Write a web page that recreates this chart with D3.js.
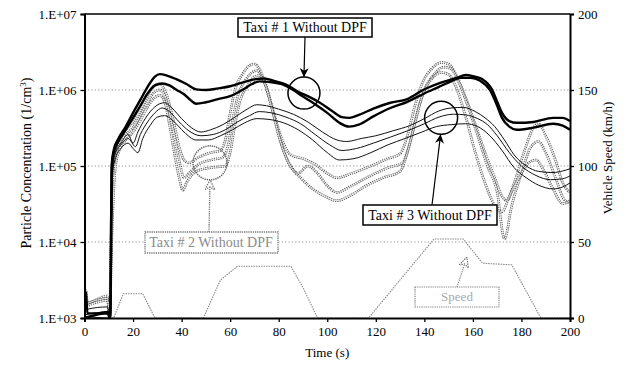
<!DOCTYPE html>
<html><head><meta charset="utf-8">
<script src="https://cdn.jsdelivr.net/npm/d3@7"></script>
<style>
html,body{margin:0;padding:0;background:#fff;}
svg{display:block;font-family:"Liberation Serif","Times New Roman",serif;}
</style></head>
<body><svg id="c" width="624" height="369"></svg>
<script>
// ---- data (time s, value) ----
const xTicks = [0,20,40,60,80,100,120,140,160,180,200];
const concTicks = [1e3,1e4,1e5,1e6,1e7];
const concTickLabels = ["1.E+03","1.E+04","1.E+05","1.E+06","1.E+07"];
const speedTicks = [0,50,100,150,200];

const speed = [[0,0],[12,0],[16,16],[24,16],[29,0],[49,0],[56,25],[63,34],[85,34],[90,20],[96,0],[117,0],[144,52],[156,52],[164,36],[176,35],[188,0],[200,0]];

const taxi1a = [[0,1.0e3],[0.6,2.2e3],[1.2,1.15e3],[5,1.15e3],[9.5,1.2e3],[10.6,1.0e3],[11.2,1.0e5],[12,1.6e5],[14,2.3e5],[17,3.3e5],[20,5e5],[23,7.4e5],[26,1.1e6],[29,1.5e6],[31,1.62e6],[34,1.55e6],[38,1.38e6],[42,1.2e6],[46,1.02e6],[50,1.0e6],[55,1.05e6],[60,1.12e6],[65,1.25e6],[70,1.38e6],[74,1.42e6],[78,1.32e6],[83,1.18e6],[88,9.5e5],[93,8e5],[97,6.8e5],[102,5.3e5],[106,4.4e5],[109,4.3e5],[113,4.7e5],[119,5.7e5],[126,6.8e5],[133,7.6e5],[139.5,1.0e6],[146.5,1.24e6],[153.5,1.45e6],[157,1.58e6],[160,1.52e6],[164,1.38e6],[168,1.0e6],[170,7e5],[172,5e5],[175,3.9e5],[178,3.7e5],[185,3.8e5],[193,4.3e5],[197,4.3e5],[200,3.9e5]];
const taxi1b = [[0,1.0e3],[9.5,1.15e3],[10.6,1.0e3],[11.3,1.0e5],[12,1.5e5],[14,2.1e5],[17,3e5],[20,4.3e5],[23,6.2e5],[26,9e5],[29,1.15e6],[32,1.22e6],[35,1.15e6],[38,1.0e6],[41,8.8e5],[44,7.2e5],[46,6.6e5],[50,6.9e5],[55,7.6e5],[60,8.3e5],[65,1.0e6],[69,1.2e6],[72,1.3e6],[76,1.28e6],[81,1.2e6],[86,1.0e6],[90,8.2e5],[95,6.5e5],[100,5.0e5],[105,3.7e5],[109,3.3e5],[113,3.5e5],[119,4.5e5],[126,5.8e5],[133,7.0e5],[140,9.0e5],[146,1.1e6],[151,1.3e6],[155,1.45e6],[159,1.45e6],[163,1.32e6],[167,1.0e6],[170,6.2e5],[172,4.3e5],[175,3.3e5],[178,3.0e5],[185,3.2e5],[193,3.6e5],[197,3.4e5],[200,3.0e5]];

const taxi3a = [[0,1.1e3],[1,1.3e3],[9.5,1.4e3],[10.5,1.0e3],[11.5,1.0e5],[12.5,1.5e5],[15,2.0e5],[18,2.6e5],[20,2.0e5],[22,2.8e5],[25,4.2e5],[28,5.6e5],[31,6.6e5],[33,6.8e5],[36,5.8e5],[40,4.2e5],[44,3.2e5],[48,2.8e5],[52,3.0e5],[57,3.5e5],[62,4.4e5],[67,5.6e5],[71,6.4e5],[75,6.2e5],[80,5.6e5],[86,4.8e5],[92,3.8e5],[98,2.8e5],[104,2.2e5],[108,2.1e5],[114,2.3e5],[120,2.5e5],[127,2.9e5],[134,3.4e5],[140,4.2e5],[146,5.3e5],[151,5.8e5],[156,5.9e5],[161,5.2e5],[165,4.3e5],[169,3.3e5],[173,2.2e5],[177,1.4e5],[182,1.0e5],[187,8.5e4],[193,8.2e4],[197,8.6e4],[200,9.2e4]];
const taxi3b = [[0,1.1e3],[9.5,1.2e3],[10.5,1.0e3],[11.5,9e4],[12.5,1.4e5],[15,1.9e5],[18,2.3e5],[21,1.8e5],[23,2.6e5],[26,3.8e5],[29,5.0e5],[32,5.8e5],[35,5.2e5],[39,3.8e5],[43,2.9e5],[48,2.5e5],[53,2.6e5],[58,3.0e5],[63,3.8e5],[68,4.6e5],[72,5.2e5],[77,5.0e5],[83,4.4e5],[89,3.6e5],[95,2.6e5],[101,1.9e5],[106,1.6e5],[112,1.7e5],[119,2.0e5],[126,2.4e5],[133,2.9e5],[140,3.6e5],[146,4.4e5],[152,4.8e5],[157,4.7e5],[162,4.2e5],[166,3.5e5],[170,2.5e5],[175,1.5e5],[180,1.0e5],[186,7.5e4],[192,6.6e4],[197,6.8e4],[200,7.4e4]];
const taxi3c = [[0,1.05e3],[10.5,1.0e3],[11.6,8e4],[12.5,1.2e5],[15,1.7e5],[18,2.0e5],[20,1.7e5],[22,1.5e5],[24,2.3e5],[27,3.4e5],[30,4.4e5],[33,4.6e5],[37,3.8e5],[41,2.8e5],[46,2.2e5],[51,2.2e5],[56,2.5e5],[61,3.0e5],[66,3.7e5],[71,4.2e5],[76,4.1e5],[82,3.7e5],[88,3.0e5],[94,2.2e5],[100,1.5e5],[105,1.2e5],[111,1.25e5],[118,1.5e5],[125,1.9e5],[132,2.3e5],[139,2.8e5],[145,3.3e5],[151,3.5e5],[157,3.6e5],[162,3.3e5],[167,2.5e5],[172,1.6e5],[177,9.5e4],[182,7.0e4],[187,5.6e4],[193,5.0e4],[197,5.3e4],[200,6.0e4]];

const taxi2a = [[0,1.6e3],[0.6,2.3e3],[1.2,1.6e3],[9.5,1.95e3],[10.3,1.0e3],[11,2e4],[12,1.0e5],[14,2.2e5],[17,3.0e5],[20,3.8e5],[23,5.5e5],[26,8.5e5],[29,1.15e6],[31,1.2e6],[33,1.0e6],[35,6.5e5],[37,3.5e5],[39,1.8e5],[41,1.2e5],[43,1.1e5],[47,1.3e5],[52,1.5e5],[56,1.6e5],[58,2.2e5],[60,5e5],[62,1.0e6],[65,1.6e6],[68,2.1e6],[70,2.2e6],[72,1.9e6],[75,1.1e6],[78,5e5],[81,2.4e5],[85,1.4e5],[90,1.25e5],[95,1.05e5],[100,8e4],[104,7e4],[110,8e4],[118,1.0e5],[125,1.25e5],[130,1.45e5],[133,2.5e5],[136,6e5],[139,1.2e6],[143,1.9e6],[147,2.3e6],[150,2.2e6],[153,1.6e6],[157,8e5],[161,3.5e5],[165,1.5e5],[169,7e4],[172,4e4],[174,3.5e4],[177,6e4],[181,1.5e5],[185,3.2e5],[187,3.6e5],[190,2.5e5],[194,1.2e5],[197,6e4],[200,4.5e4]];
const taxi2b = [[0,1.5e3],[9.5,1.8e3],[10.3,1.0e3],[11.2,2e4],[12.2,9e4],[14,1.9e5],[17,2.6e5],[20,3.2e5],[23,4.6e5],[26,7e5],[29,9.5e5],[31,1.0e6],[33,8.5e5],[35,5e5],[37,2.5e5],[39,1.2e5],[41,7e4],[43,8e4],[47,1.05e5],[52,1.2e5],[57,1.3e5],[59,1.8e5],[61,4e5],[63,8e5],[66,1.3e6],[69,1.7e6],[71,1.8e6],[73,1.5e6],[76,8e5],[79,3.5e5],[82,1.6e5],[86,9e4],[88,8e4],[92,1.0e5],[96,8e4],[100,5.5e4],[104,4.5e4],[110,5.5e4],[118,7.5e4],[125,9.5e4],[131,1.1e5],[134,2e5],[137,5e5],[140,1.0e6],[144,1.6e6],[148,2.0e6],[151,1.9e6],[154,1.3e6],[158,6e5],[162,2.5e5],[166,1.0e5],[170,4.5e4],[173,1.1e4],[176,3e4],[180,8e4],[184,1.8e5],[187,2.1e5],[190,1.5e5],[194,7e4],[198,3.5e4],[200,3.3e4]];
const taxi2c = [[0,1.4e3],[9.5,1.7e3],[10.3,1.0e3],[11.4,1.5e4],[12.5,8e4],[14,1.5e5],[17,2.2e5],[20,2.8e5],[23,4e5],[26,6e5],[29,8e5],[31,8.5e5],[33,7e5],[35,3.5e5],[37,1.5e5],[39,7e4],[40.5,4.8e4],[42,6e4],[46,8.5e4],[52,9.5e4],[58,1.0e5],[60,1.5e5],[62,3.5e5],[64,7e5],[67,1.1e6],[70,1.5e6],[72,1.55e6],[74,1.3e6],[77,6e5],[80,2.5e5],[84,1.1e5],[89,7e4],[94,5e4],[99,4e4],[104,3.5e4],[109,4e4],[116,5.5e4],[123,7e4],[130,8.5e4],[133,1.5e5],[136,3.5e5],[139,8e5],[143,1.4e6],[147,1.7e6],[150,1.6e6],[153,1.1e6],[157,4.5e5],[161,1.5e5],[165,6e4],[169,3e4],[172,2.5e4],[175,4e4],[179,7e4],[183,1.1e5],[186,1.2e5],[189,9e4],[193,5e4],[197,3.2e4],[200,3.5e4]];

// annotations: [time, concentration] / [time, speed]
const circTaxi1 = [90.4, 9.1e5];
const circTaxi2 = [51.7, 1.1e5];
const circTaxi3 = [146.9, 4.3e5];
const speedArrowTip = [157.5, 40];

// ---- chart ----
const svg = d3.select("#c");
const L=84.5, R=570, T=14, B=318;
const x = d3.scaleLinear().domain([0,200]).range([L,R]);
const y = d3.scaleLog().domain([1e3,1e7]).range([B,T]);
const ys = d3.scaleLinear().domain([0,200]).range([B,T]);

const defs = svg.append("defs");
defs.append("clipPath").attr("id","clip")
  .append("rect").attr("x",L).attr("y",T).attr("width",R-L).attr("height",B-T);
defs.append("marker").attr("id","ah").attr("viewBox","0 0 10 10").attr("refX",10).attr("refY",5)
  .attr("markerWidth",9).attr("markerHeight",10).attr("markerUnits","userSpaceOnUse").attr("orient","auto")
  .append("path").attr("d","M0,0 L10,5 L0,10 L3,5 Z").attr("fill","#000");
defs.append("marker").attr("id","ahg").attr("viewBox","0 0 10 10").attr("refX",10).attr("refY",5)
  .attr("markerWidth",10).attr("markerHeight",10).attr("markerUnits","userSpaceOnUse").attr("orient","auto")
  .append("path").attr("d","M0,0 L10,5 L0,10 L3,5 Z").attr("fill","#fff").attr("stroke","#777").attr("stroke-width",1.2).attr("stroke-dasharray","1.5,1");

// gridlines
svg.append("g").selectAll("line").data([1e4,1e5,1e6]).join("line")
  .attr("x1",L).attr("x2",R).attr("y1",d=>y(d)).attr("y2",d=>y(d))
  .attr("stroke","#777").attr("stroke-width",0.8).attr("stroke-dasharray","1.2,2.2");

const plot = svg.append("g").attr("clip-path","url(#clip)");
const lineC = d3.line().x(d=>x(d[0])).y(d=>y(d[1])).curve(d3.curveMonotoneX);
const lineS = d3.line().x(d=>x(d[0])).y(d=>ys(d[1]));

// speed
plot.append("path").attr("d",lineS(speed)).attr("fill","none").attr("stroke","#888")
  .attr("stroke-width",1.1).attr("stroke-dasharray","1.5,1");

// taxi 2 (hollow dotted gray)
[taxi2a,taxi2b,taxi2c].forEach(s=>{
  plot.append("path").attr("d",lineC(s)).attr("fill","none").attr("stroke","#555")
    .attr("stroke-width",2.6).attr("stroke-dasharray","1.3,0.9");
  plot.append("path").attr("d",lineC(s)).attr("fill","none").attr("stroke","#fff")
    .attr("stroke-width",0.8);
});
// taxi 3 thin black
[taxi3a,taxi3b,taxi3c].forEach(s=>{
  plot.append("path").attr("d",lineC(s)).attr("fill","none").attr("stroke","#111").attr("stroke-width",1);
});
// taxi 1 thick black
[taxi1a,taxi1b].forEach(s=>{
  plot.append("path").attr("d",lineC(s)).attr("fill","none").attr("stroke","#000").attr("stroke-width",2.4);
});

// frame top
svg.append("line").attr("x1",L).attr("x2",R).attr("y1",T).attr("y2",T).attr("stroke","#000").attr("stroke-width",1.5);

// axes
const fs = "13px";
const gL = svg.append("g").attr("transform",`translate(${L},0)`)
  .call(d3.axisLeft(y).tickValues(concTicks).tickFormat((d,i)=>concTickLabels[i]).tickSize(4).tickPadding(4));
const gR = svg.append("g").attr("transform",`translate(${R},0)`)
  .call(d3.axisRight(ys).tickValues(speedTicks).tickSize(4).tickPadding(4));
const gB = svg.append("g").attr("transform",`translate(0,${B})`)
  .call(d3.axisBottom(x).tickValues(xTicks).tickSize(4).tickPadding(5));
[gL,gR,gB].forEach(g=>{
  g.selectAll("text").attr("font-size",fs).attr("font-family","Liberation Serif").attr("fill","#000");
  g.select(".domain").attr("stroke-width",2).attr("stroke","#000");
  g.selectAll(".tick line").attr("stroke-width",1.3).attr("stroke","#000");
});

// titles
svg.append("text").attr("x",(L+R)/2).attr("y",357).attr("text-anchor","middle").attr("font-size","13px").text("Time (s)");
const yt = svg.append("text").attr("transform","translate(31,163) rotate(-90)").attr("text-anchor","middle").attr("font-size","14px");
yt.append("tspan").text("Particle Concentration (1/cm");
yt.append("tspan").attr("font-size","9px").attr("dy","-5").text("3");
yt.append("tspan").attr("dy","5").text(")");
svg.append("text").attr("transform","translate(612,158) rotate(-90)").attr("text-anchor","middle").attr("font-size","13px").text("Vehicle Speed (km/h)");

// annotations
const ann = svg.append("g");
function circ(c, r, dotted){
  ann.append("circle").attr("cx",x(c[0])).attr("cy",y(c[1])).attr("r",r).attr("fill","none")
    .attr("stroke",dotted?"#666":"#000").attr("stroke-width",dotted?1.6:1.5)
    .attr("stroke-dasharray",dotted?"1.3,0.9":null);
}
circ(circTaxi1,16,false);
circ(circTaxi3,16.5,false);
circ(circTaxi2,17,true);

// Taxi 1 box
ann.append("rect").attr("x",238).attr("y",18).attr("width",134).attr("height",19).attr("fill","#fff").attr("stroke","#000").attr("stroke-width",1.5);
ann.append("text").attr("x",305).attr("y",32).attr("text-anchor","middle").attr("font-size","14px").text("Taxi # 1 Without DPF");
ann.append("line").attr("x1",305).attr("y1",37).attr("x2",x(circTaxi1[0])).attr("y2",y(circTaxi1[1])-16)
  .attr("stroke","#000").attr("stroke-width",1.2).attr("marker-end","url(#ah)");

// Taxi 3 box
ann.append("rect").attr("x",363).attr("y",205).attr("width",134).attr("height",20).attr("fill","#fff").attr("stroke","#000").attr("stroke-width",1.5);
ann.append("text").attr("x",430).attr("y",220).attr("text-anchor","middle").attr("font-size","14px").text("Taxi # 3 Without DPF");
ann.append("line").attr("x1",432).attr("y1",205).attr("x2",x(circTaxi3[0])-0.5).attr("y2",y(circTaxi3[1])+16.5)
  .attr("stroke","#000").attr("stroke-width",1.2).attr("marker-end","url(#ah)");

// Taxi 2 box (dotted gray)
ann.append("rect").attr("x",145).attr("y",232).attr("width",133).attr("height",21).attr("fill","#fff").attr("stroke","#777").attr("stroke-width",1.3).attr("stroke-dasharray","1.3,0.9");
ann.append("text").attr("x",211).attr("y",247).attr("text-anchor","middle").attr("font-size","14px").attr("fill","#8a8a8a").text("Taxi # 2 Without DPF");
ann.append("line").attr("x1",209).attr("y1",232).attr("x2",x(circTaxi2[0])).attr("y2",y(circTaxi2[1])+17)
  .attr("stroke","#777").attr("stroke-width",1.3).attr("stroke-dasharray","1.3,0.9").attr("marker-end","url(#ahg)");

// Speed box
ann.append("rect").attr("x",415).attr("y",287).attr("width",84).attr("height",20).attr("fill","#fff").attr("stroke","#888").attr("stroke-width",1.2).attr("stroke-dasharray","1.3,0.9");
ann.append("text").attr("x",457).attr("y",301).attr("text-anchor","middle").attr("font-size","13px").attr("fill","#aaa").text("Speed");
ann.append("line").attr("x1",457).attr("y1",287).attr("x2",x(speedArrowTip[0])).attr("y2",ys(speedArrowTip[1]))
  .attr("stroke","#888").attr("stroke-width",1.2).attr("stroke-dasharray","1.3,0.9").attr("marker-end","url(#ahg)");
</script></body></html>
